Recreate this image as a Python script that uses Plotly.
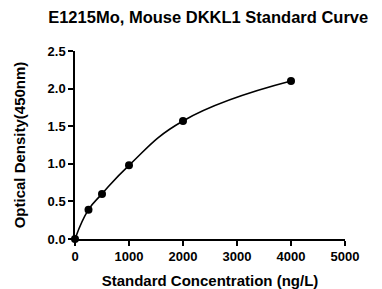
import plotly.graph_objects as go

conc = [0, 250, 500, 1000, 2000, 4000]
od = [0.0, 0.39, 0.60, 0.98, 1.57, 2.10]

x_ticks = [0, 1000, 2000, 3000, 4000, 5000]
y_ticks = [0.0, 0.5, 1.0, 1.5, 2.0, 2.5]
y_tick_labels = ["0.0", "0.5", "1.0", "1.5", "2.0", "2.5"]

font_family = "Liberation Sans, Arial, sans-serif"

fig = go.Figure()
fig.add_trace(go.Scatter(
    x=conc, y=od, mode="lines+markers",
    line=dict(color="black", width=1.6, shape="spline", smoothing=1.3),
    marker=dict(color="black", size=8),
    cliponaxis=False, showlegend=False,
))

axis_common = dict(
    showgrid=False, zeroline=False, showline=True, linecolor="black", linewidth=1.5,
    ticks="outside", ticklen=5, tickwidth=1.5, tickcolor="black", automargin=False,
    tickfont=dict(family=font_family, size=13, color="black", weight="bold"),
)

fig.update_layout(
    width=382, height=289,
    margin=dict(l=75, r=37, t=51, b=50),
    paper_bgcolor="white", plot_bgcolor="white",
    title=dict(text="<b>E1215Mo, Mouse DKKL1 Standard Curve</b>", x=0.545, xanchor="center",
               y=0.94, yanchor="middle", automargin=False,
               font=dict(family=font_family, size=16.5, color="black")),
    xaxis=dict(range=[0, 5000], tickvals=x_ticks,
               title=dict(text="<b>Standard Concentration (ng/L)</b>", standoff=12,
                          font=dict(family=font_family, size=15, color="black")),
               **axis_common),
    yaxis=dict(range=[0, 2.5], tickvals=y_ticks, ticktext=y_tick_labels,
               title=dict(text="<b>Optical Density(450nm)</b>", standoff=18,
                          font=dict(family=font_family, size=15, color="black")),
               **axis_common),
)

fig.write_html("out.html", config={"displayModeBar": False},
               post_script="document.body.style.margin='0';")
